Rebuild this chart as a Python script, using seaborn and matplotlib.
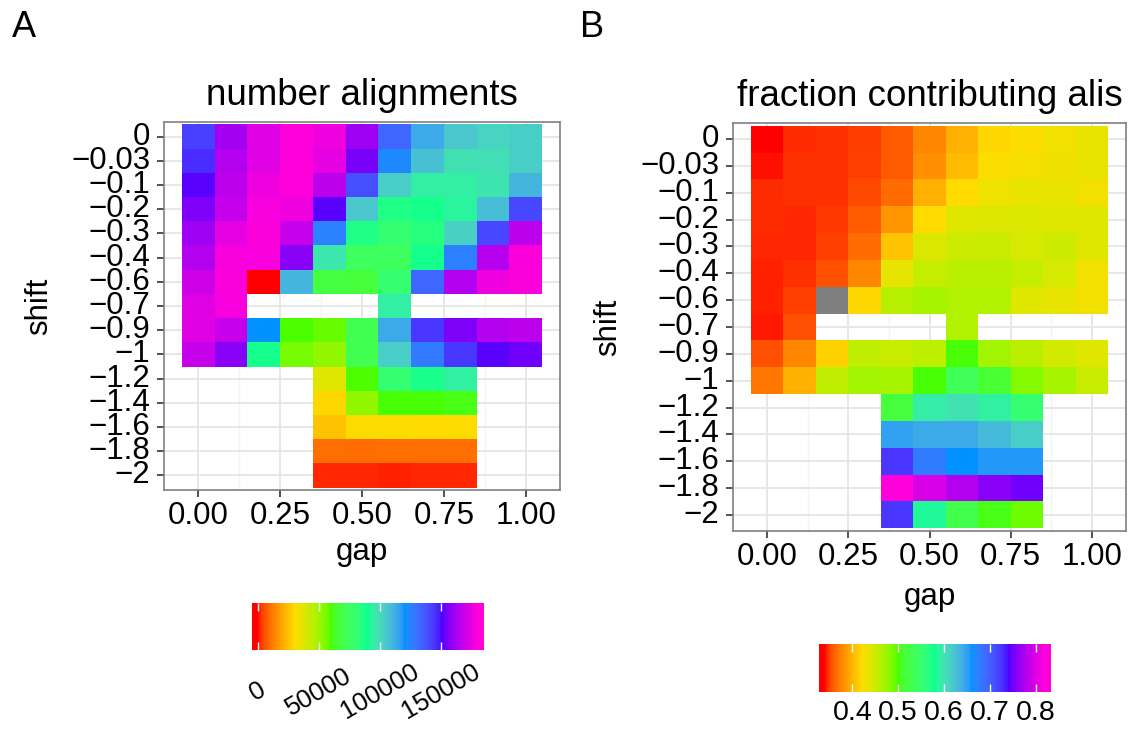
import numpy as np
import pandas as pd
import matplotlib
matplotlib.use("Agg")
import matplotlib.pyplot as plt
from matplotlib.colors import ListedColormap, Normalize
from matplotlib.cm import ScalarMappable
import seaborn as sns

nan = np.nan

# ---------------- data ----------------
gap = [0.0, 0.1, 0.2, 0.3, 0.4, 0.5, 0.6, 0.7, 0.8, 0.9, 1.0]
shift_labels = ["0", "\u22120.03", "\u22120.1", "\u22120.2", "\u22120.3", "\u22120.4",
                "\u22120.6", "\u22120.7", "\u22120.9", "\u22121", "\u22121.2", "\u22121.4",
                "\u22121.6", "\u22121.8", "\u22122"]

number_alignments = [
    [142600, 161500, 173300, 180500, 176900, 160600, 132700, 113700, 105600, 102000, 103800],
    [146200, 164300, 173300, 180500, 175100, 155200, 122700, 107400, 98700, 99300, 103800],
    [151600, 166100, 176900, 180500, 166100, 139000, 103800, 94800, 94800, 97500, 110100],
    [156100, 167900, 178700, 176900, 151600, 105600, 86600, 88400, 93000, 108300, 140800],
    [160600, 175100, 179600, 167900, 125400, 86600, 80300, 84800, 102900, 140800, 166100],
    [164300, 178700, 178700, 157400, 96600, 74900, 74900, 88400, 125400, 165200, 179600],
    [169700, 179600, 0, 110100, 67700, 66800, 80300, 132700, 164300, 176900, 179600],
    [173300, 178700, nan, nan, nan, nan, 94800, nan, nan, nan, nan],
    [173300, 167900, 120400, 60100, 57800, 71300, 113700, 144400, 156100, 164300, 166100],
    [167900, 157400, 88400, 56000, 52300, 71300, 103800, 127300, 144400, 151600, 154300],
    [nan, nan, nan, nan, 37500, 60100, 80300, 87500, 93900, nan, nan],
    [nan, nan, nan, nan, 29400, 52300, 60500, 60500, 61400, nan, nan],
    [nan, nan, nan, nan, 25300, 31000, 31000, 30300, 31000, nan, nan],
    [nan, nan, nan, nan, 9900, 9800, 9900, 10000, 9900, nan, nan],
    [nan, nan, nan, nan, 1600, 1500, 1400, 1500, 1600, nan, nan],
]

fraction_contributing = [
    [0.340, 0.345, 0.346, 0.349, 0.358, 0.377, 0.398, 0.418, 0.423, 0.429, 0.434],
    [0.341, 0.346, 0.346, 0.350, 0.358, 0.381, 0.403, 0.423, 0.426, 0.430, 0.434],
    [0.345, 0.346, 0.346, 0.353, 0.365, 0.398, 0.420, 0.431, 0.434, 0.434, 0.429],
    [0.345, 0.344, 0.348, 0.358, 0.385, 0.420, 0.440, 0.443, 0.443, 0.440, 0.440],
    [0.344, 0.344, 0.350, 0.365, 0.408, 0.443, 0.451, 0.453, 0.446, 0.451, 0.440],
    [0.343, 0.346, 0.355, 0.377, 0.436, 0.455, 0.461, 0.461, 0.455, 0.446, 0.429],
    [0.343, 0.350, nan, 0.418, 0.463, 0.470, 0.465, 0.465, 0.440, 0.436, 0.429],
    [0.342, 0.355, nan, nan, nan, nan, 0.465, nan, nan, nan, nan],
    [0.355, 0.377, 0.415, 0.458, 0.453, 0.459, 0.501, 0.472, 0.461, 0.448, 0.440],
    [0.370, 0.398, 0.458, 0.472, 0.470, 0.501, 0.535, 0.513, 0.484, 0.470, 0.453],
    [nan, nan, nan, nan, 0.520, 0.593, 0.602, 0.590, 0.554, nan, nan],
    [nan, nan, nan, nan, 0.650, 0.643, 0.643, 0.631, 0.617, nan, nan],
    [nan, nan, nan, nan, 0.725, 0.679, 0.661, 0.655, 0.655, nan, nan],
    [nan, nan, nan, nan, 0.821, 0.797, 0.778, 0.759, 0.751, nan, nan],
    [nan, nan, nan, nan, 0.725, 0.585, 0.528, 0.504, 0.492, nan, nan],
]

limits_A = [0, 180500]
limits_B = [0.340, 0.821]
gap_ticks = [0.0, 0.25, 0.5, 0.75, 1.0]
gap_ticklabels = ["0.00", "0.25", "0.50", "0.75", "1.00"]
cbar_ticks_A = [0, 50000, 100000, 150000]
cbar_ticks_B = [0.4, 0.5, 0.6, 0.7, 0.8]

rainbow7 = ["#FF0000", "#FFDB00", "#49FF00", "#00FF92", "#0092FF", "#4900FF", "#FF00DB"]

# ---------------- colour ramp (Lab interpolation like ggplot) ----------------
M = np.array([[0.4124, 0.3576, 0.1805], [0.2126, 0.7152, 0.0722], [0.0193, 0.1192, 0.9505]])
WHITE = np.array([0.95047, 1.0, 1.08883])


def hex_to_lab(cols):
    rgb = np.array([[int(h[i:i + 2], 16) / 255 for i in (1, 3, 5)] for h in cols])
    lin = np.where(rgb <= 0.04045, rgb / 12.92, ((rgb + 0.055) / 1.055) ** 2.4)
    t = (lin @ M.T) / WHITE
    d = 6 / 29
    f = np.where(t > d ** 3, np.cbrt(t), t / (3 * d * d) + 4 / 29)
    return np.stack([116 * f[:, 1] - 16, 500 * (f[:, 0] - f[:, 1]), 200 * (f[:, 1] - f[:, 2])], 1)


def lab_to_rgb(lab):
    L, a, b = lab.T
    fy = (L + 16) / 116
    f = np.stack([fy + a / 500, fy, fy - b / 200], 1)
    d = 6 / 29
    t = np.where(f > d, f ** 3, 3 * d * d * (f - 4 / 29))
    lin = np.clip((t * WHITE) @ np.linalg.inv(M).T, 0, 1)
    return np.clip(np.where(lin <= 0.0031308, 12.92 * lin, 1.055 * lin ** (1 / 2.4) - 0.055), 0, 1)


labs = hex_to_lab(rainbow7)
nseg = len(rainbow7) - 1
s = np.linspace(0, 1, 512)
idx = np.minimum((s * nseg).astype(int), nseg - 1)
frac = s * nseg - idx
lab_interp = labs[idx] * (1 - frac)[:, None] + labs[idx + 1] * frac[:, None]
cmap = ListedColormap(lab_to_rgb(lab_interp))
grey_cmap = ListedColormap(["#7F7F7F"])

# ---------------- figure ----------------
plt.rcParams["font.family"] = ["Liberation Sans", "DejaVu Sans"]
W, H = 1133, 729
fig = plt.figure(figsize=(W / 100, H / 100), dpi=100)


def box(l, t, r, b):
    return [l / W, (H - b) / H, (r - l) / W, (b - t) / H]


axA = fig.add_axes(box(164, 122, 560, 490))
axB = fig.add_axes(box(733, 123, 1126, 531))

dfA = pd.DataFrame(number_alignments, index=shift_labels, columns=gap)
dfB = pd.DataFrame(fraction_contributing, index=shift_labels, columns=gap)
na_B = dfB.isna() & dfA.notna()
dfB_na = pd.DataFrame(np.where(na_B, 1.0, np.nan), index=shift_labels, columns=gap)

sns.heatmap(dfA, ax=axA, cmap=cmap, vmin=limits_A[0], vmax=limits_A[1], cbar=False)
sns.heatmap(dfB_na, ax=axB, cmap=grey_cmap, vmin=0, vmax=1, cbar=False)
sns.heatmap(dfB, ax=axB, cmap=cmap, vmin=limits_B[0], vmax=limits_B[1], cbar=False)

step = gap[1] - gap[0]


def gpos(v):
    return v / step + 0.5


def style(ax, title, xlabelpad):
    ax.set_xlim(gpos(-0.105), gpos(1.105))
    ax.set_ylim(len(shift_labels) + 0.1, -0.1)
    ax.set_xticks([gpos(v) for v in gap_ticks])
    ax.set_xticklabels(gap_ticklabels, rotation=0)
    ax.set_xticks([gpos((gap_ticks[i] + gap_ticks[i + 1]) / 2) for i in range(len(gap_ticks) - 1)], minor=True)
    ax.set_yticks(np.arange(len(shift_labels)) + 0.5)
    ax.set_yticklabels(shift_labels, rotation=0)
    ax.set_axisbelow(True)
    ax.grid(True, which="major", color="#E5E5E5", lw=1.3)
    ax.grid(True, which="minor", axis="x", color="#F4F4F4", lw=1.0)
    ax.tick_params(which="major", length=5, width=1.2, color="#333333", labelsize=22.5,
                   labelcolor="black", pad=3)
    ax.tick_params(axis="y", which="major", pad=5)
    ax.tick_params(which="minor", length=0)
    for sp in ax.spines.values():
        sp.set_visible(True)
        sp.set_color("#7F7F7F")
        sp.set_linewidth(1.2)
    ax.set_xlabel("gap", fontsize=22.5, labelpad=xlabelpad)
    ax.set_ylabel("shift", fontsize=22.5, labelpad=12)
    ax.set_title(title, fontsize=26.5, pad=12)
    ax.set_facecolor("white")


style(axA, "number alignments", 4)
style(axB, "fraction contributing alis", 7)


def colourbar(rect, lims, ticks, labels, rot, fsize, pad):
    cax = fig.add_axes(box(*rect))
    lo, hi = lims
    d = (hi - lo) / 19
    sm = ScalarMappable(norm=Normalize(lo, hi), cmap=cmap)
    cb = fig.colorbar(sm, cax=cax, orientation="horizontal",
                      boundaries=np.linspace(lo - d / 2, hi + d / 2, 300))
    cb.outline.set_visible(False)
    cb.set_ticks(ticks)
    cb.set_ticklabels(labels)
    cax.tick_params(axis="x", which="major", direction="in", length=6, width=1.0,
                    colors="white", labelcolor="black", top=True, bottom=True,
                    labelsize=fsize, pad=pad)
    cax.tick_params(axis="x", which="minor", length=0)
    if rot:
        for lab in cax.get_xticklabels():
            lab.set_rotation(rot)
            lab.set_ha("center")
            lab.set_va("center")
    return cax


colourbar((252, 603, 484, 650), limits_A, cbar_ticks_A, [str(t) for t in cbar_ticks_A], 30, 18.5, 30)
colourbar((819, 644, 1051, 692), limits_B, cbar_ticks_B, [f"{t:.1f}" for t in cbar_ticks_B], 0, 20.5, 6)

fig.text(12 / W, 1 - 10 / H, "A", fontsize=26, va="top", ha="left")
fig.text(580 / W, 1 - 10 / H, "B", fontsize=26, va="top", ha="left")

fig.savefig("out.png", dpi=100)
